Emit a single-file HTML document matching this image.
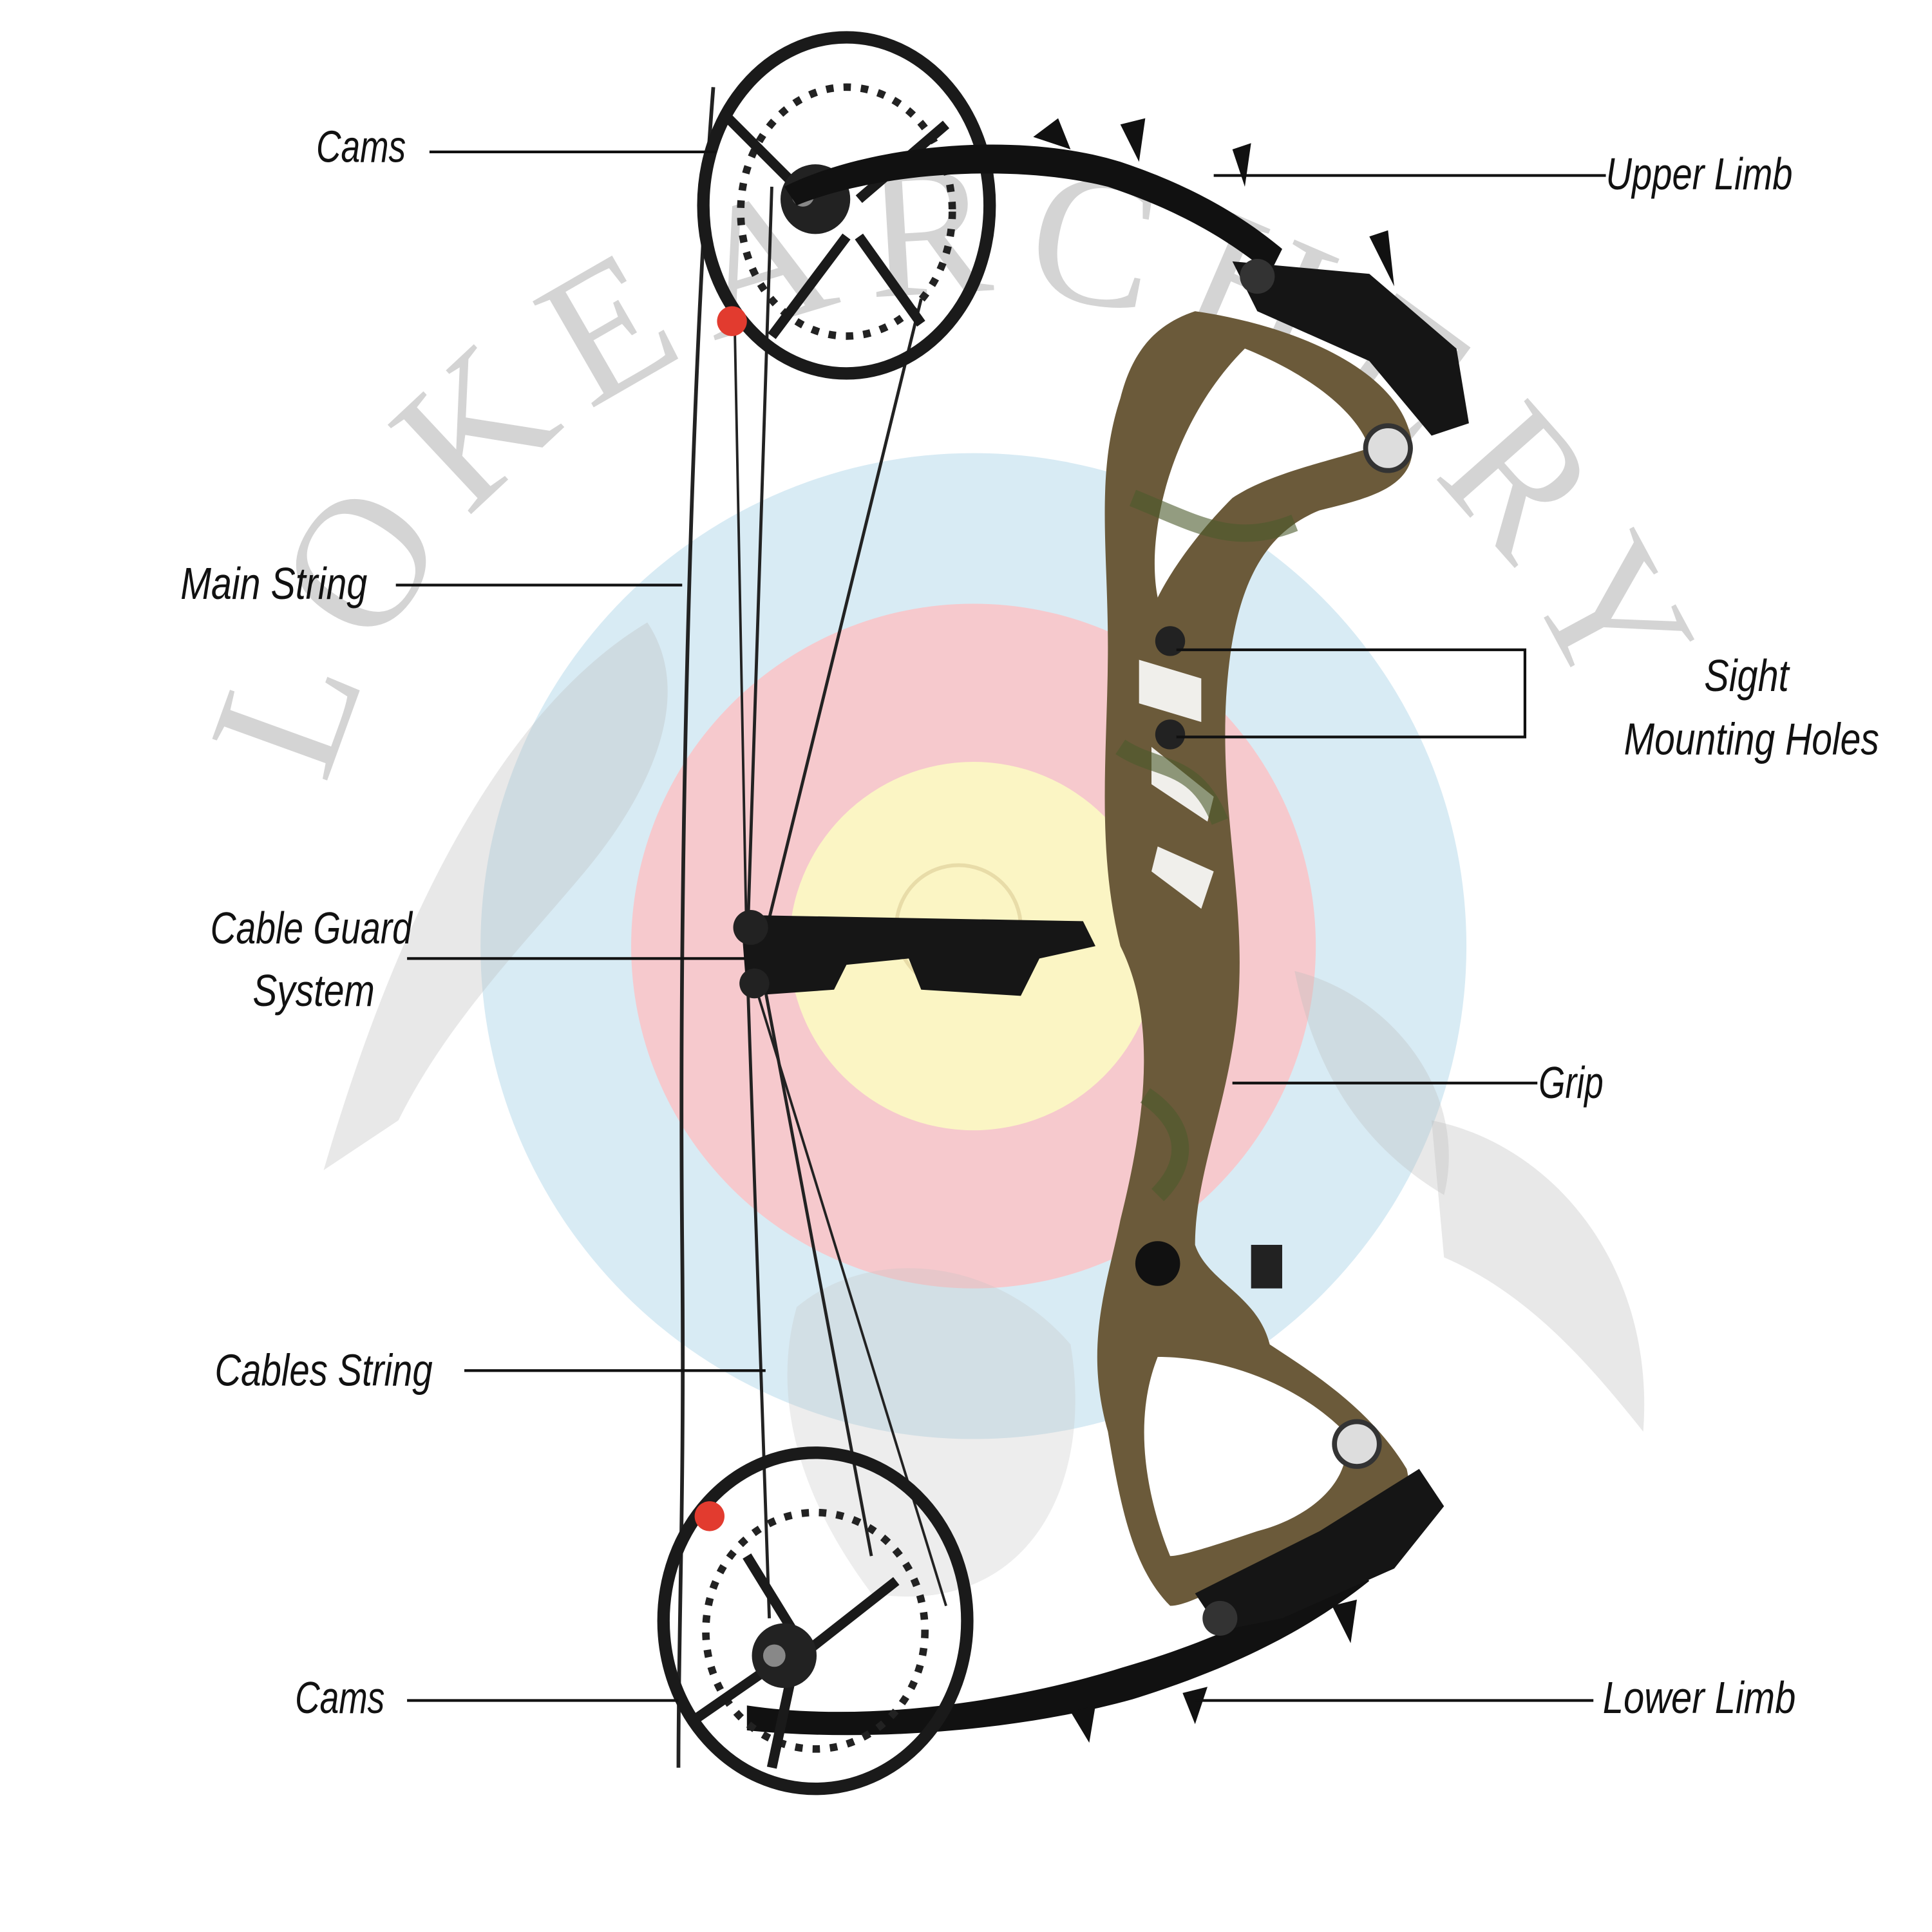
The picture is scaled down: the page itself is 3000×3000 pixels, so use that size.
<!DOCTYPE html>
<html><head><meta charset="utf-8"><style>
html,body{margin:0;padding:0;background:#fff;}
svg{display:block;}
.lb{font-family:"Liberation Sans",sans-serif;font-style:italic;font-size:36px;fill:#111;}
</style></head><body>
<svg width="3000" height="3000" viewBox="0 0 1552 1552" xmlns="http://www.w3.org/2000/svg">
<rect width="1552" height="1552" fill="#fff"/>
<circle cx="782" cy="760" r="396" fill="#d8ebf4"/>
<circle cx="782" cy="760" r="275" fill="#f6c9cd"/>
<circle cx="782" cy="760" r="148" fill="#fbf5c4"/>
<circle cx="770" cy="745" r="50" fill="none" stroke="#e8dca8" stroke-width="3"/>
<defs><path id="arc" d="M 245 770 A 535 535 0 0 1 1315 770"/></defs>
<text font-family="Liberation Serif,serif" font-size="150" fill="#d4d4d4"><textPath href="#arc" startOffset="140" textLength="1330" lengthAdjust="spacing">LOKEARCHERY</textPath></text>
<path d="M260 940 C330 700 420 560 520 500 C560 560 520 640 470 700 C420 760 360 820 320 900 Z" fill="#bdbdbd" opacity="0.35"/>
<path d="M1150 900 C1250 920 1330 1020 1320 1150 C1280 1100 1230 1040 1160 1010 Z" fill="#bdbdbd" opacity="0.35"/>
<path d="M640 1050 C700 1000 800 1010 860 1080 C880 1200 820 1300 700 1280 C640 1200 620 1120 640 1050Z" fill="#c4c4c4" opacity="0.3"/>
<path d="M1040 780 C1120 800 1180 880 1160 960 C1110 930 1060 880 1040 780Z" fill="#bdbdbd" opacity="0.35"/>
<g stroke="#222" fill="none">
<path d="M573 70 C555 300 545 700 548 1000 C550 1200 545 1300 545 1420" stroke-width="3"/>
<path d="M620 150 L600 770 L618 1300" stroke-width="2.5"/>
<path d="M740 240 L610 770 L700 1250" stroke-width="2.5"/>
<path d="M590 250 L600 770 L760 1290" stroke-width="2"/>
</g>
<ellipse cx="680" cy="165" rx="115" ry="135" fill="none" stroke="#1a1a1a" stroke-width="10"/>
<ellipse cx="680" cy="170" rx="85" ry="100" fill="none" stroke="#222" stroke-width="6" stroke-dasharray="6 8"/>
<path d="M580 90 L650 160 M760 100 L690 160 M620 270 L680 190 M740 260 L690 190" stroke="#1a1a1a" stroke-width="8"/>
<circle cx="655" cy="160" r="28" fill="#222"/><circle cx="645" cy="157" r="9" fill="#888"/>
<circle cx="588" cy="258" r="12" fill="#e23b2f"/>
<path d="M630 150 C700 115 820 105 900 130 C960 150 1000 175 1030 200 L1020 220 C990 195 950 170 890 150 C810 130 700 140 640 165 Z" fill="#111"/>
<path d="M830 110 L850 95 L860 120 Z M900 100 L920 95 L915 130 Z M990 120 L1005 115 L1000 150 Z M1100 190 L1115 185 L1120 230 Z" fill="#111"/>
<path d="M990 210 L1100 220 L1170 280 L1180 340 L1150 350 L1100 290 L1010 250 Z" fill="#151515"/>
<circle cx="1010" cy="222" r="14" fill="#333"/>
<path d="M960 250 C1030 260 1110 290 1130 340 C1150 390 1100 400 1060 410 C1010 430 990 480 985 560 C980 650 1000 720 995 800 C990 880 960 940 960 1000 C970 1030 1010 1040 1020 1080 C1050 1100 1100 1130 1130 1180 C1140 1220 1100 1240 1050 1250 C1000 1260 960 1290 940 1290 C910 1260 900 1210 890 1150 C870 1080 890 1030 900 980 C920 900 930 820 900 760 C880 680 890 600 890 520 C890 440 880 380 900 320 C910 280 930 260 960 250 Z" fill="#6b5a3a"/>
<path d="M1000 280 C1050 300 1090 330 1100 360 C1070 370 1020 380 990 400 C960 430 940 460 930 480 C920 430 940 340 1000 280 Z" fill="#fff"/>
<path d="M930 1090 C980 1090 1040 1110 1080 1150 C1090 1190 1050 1220 1010 1230 C980 1240 950 1250 940 1250 C920 1200 910 1140 930 1090Z" fill="#fff"/>
<path d="M915 530 L965 545 L965 580 L915 565Z M925 600 L975 640 L970 660 L925 630Z M930 680 L975 700 L965 730 L925 700Z" fill="#fff" opacity="0.9"/>
<path d="M900 600 C930 620 960 610 980 660 M920 880 C950 900 960 930 930 960 M910 400 C960 420 990 440 1040 420" stroke="#4b5a2c" stroke-width="14" fill="none" opacity="0.6"/>
<circle cx="940" cy="515" r="12" fill="#222"/><circle cx="940" cy="590" r="12" fill="#222"/>
<circle cx="1115" cy="360" r="18" fill="#ddd" stroke="#333" stroke-width="4"/>
<circle cx="1090" cy="1160" r="18" fill="#ddd" stroke="#333" stroke-width="4"/>
<circle cx="930" cy="1015" r="18" fill="#111"/>
<rect x="1005" y="1000" width="25" height="35" fill="#222"/>
<path d="M595 735 L870 740 L880 760 L835 770 L820 800 L740 795 L730 770 L680 775 L670 795 L600 800 Z" fill="#161616"/>
<circle cx="603" cy="745" r="14" fill="#222"/><circle cx="606" cy="790" r="12" fill="#222"/>
<path d="M600 1370 C700 1385 820 1365 900 1340 C970 1320 1040 1290 1080 1250 L1100 1270 C1050 1310 990 1340 910 1365 C820 1390 700 1400 600 1390 Z" fill="#111"/>
<path d="M860 1375 L875 1400 L880 1370Z M950 1360 L960 1385 L970 1355Z M1070 1290 L1085 1320 L1090 1285Z" fill="#111"/>
<path d="M960 1280 L1060 1230 L1140 1180 L1160 1210 L1120 1260 L1030 1300 L980 1310 Z" fill="#151515"/>
<circle cx="980" cy="1300" r="14" fill="#333"/>
<ellipse cx="655" cy="1302" rx="122" ry="135" fill="none" stroke="#1a1a1a" stroke-width="10"/>
<ellipse cx="655" cy="1310" rx="88" ry="95" fill="none" stroke="#222" stroke-width="6" stroke-dasharray="6 8"/>
<path d="M560 1380 L625 1335 M620 1420 L635 1350 M720 1270 L650 1325 M600 1250 L640 1315" stroke="#1a1a1a" stroke-width="8"/>
<circle cx="630" cy="1330" r="26" fill="#222"/><circle cx="622" cy="1330" r="9" fill="#888"/>
<circle cx="570" cy="1218" r="12" fill="#e23b2f"/>
<g stroke="#111" stroke-width="2.2" fill="none">
<line x1="345" y1="122" x2="575" y2="122"/>
<line x1="975" y1="141" x2="1290" y2="141"/>
<line x1="318" y1="470" x2="548" y2="470"/>
<polyline points="945,522 1225,522 1225,592 945,592"/>
<line x1="327" y1="770" x2="598" y2="770"/>
<line x1="990" y1="870" x2="1235" y2="870"/>
<line x1="373" y1="1101" x2="615" y2="1101"/>
<line x1="327" y1="1366" x2="545" y2="1366"/>
<line x1="960" y1="1366" x2="1280" y2="1366"/>
</g>
<g class="lb">
<text x="290" y="130" text-anchor="middle" textLength="72" lengthAdjust="spacingAndGlyphs">Cams</text>
<text x="1365" y="152" text-anchor="middle" textLength="150" lengthAdjust="spacingAndGlyphs">Upper Limb</text>
<text x="220" y="481" text-anchor="middle" textLength="150" lengthAdjust="spacingAndGlyphs">Main String</text>
<text x="1403" y="555" text-anchor="middle" textLength="68" lengthAdjust="spacingAndGlyphs">Sight</text>
<text x="1407" y="606" text-anchor="middle" textLength="205" lengthAdjust="spacingAndGlyphs">Mounting Holes</text>
<text x="250" y="758" text-anchor="middle" textLength="162" lengthAdjust="spacingAndGlyphs">Cable Guard</text>
<text x="252" y="808" text-anchor="middle" textLength="98" lengthAdjust="spacingAndGlyphs">System</text>
<text x="1262" y="882" text-anchor="middle" textLength="52" lengthAdjust="spacingAndGlyphs">Grip</text>
<text x="260" y="1113" text-anchor="middle" textLength="175" lengthAdjust="spacingAndGlyphs">Cables String</text>
<text x="273" y="1376" text-anchor="middle" textLength="72" lengthAdjust="spacingAndGlyphs">Cams</text>
<text x="1365" y="1376" text-anchor="middle" textLength="155" lengthAdjust="spacingAndGlyphs">Lower Limb</text>
</g>
</svg>
</body></html>
